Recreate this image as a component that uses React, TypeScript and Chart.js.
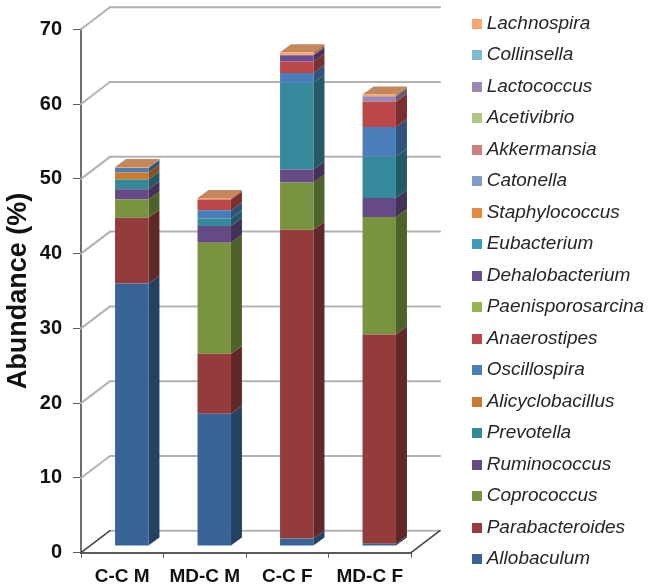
import React, { useEffect, useRef } from "react";
import { Chart, registerables } from "chart.js";

Chart.register(...registerables);

const categories = ["C-C M", "MD-C M", "C-C F", "MD-C F"];
const yTicksMax = 70;

const Allobaculum = [35.1, 17.7, 1.0, 0.3];
const Parabacteroides = [8.8, 8.0, 41.3, 28.0];
const Coprococcus = [2.45, 14.85, 6.3, 15.7];
const Ruminococcus = [1.35, 2.25, 1.75, 2.55];
const Prevotella = [1.3, 1.0, 11.6, 5.5];
const Alicyclobacillus = [0.95, 0, 0, 0];
const Oscillospira = [0.6, 1.1, 1.3, 4.0];
const Anaerostipes = [0, 1.45, 1.55, 3.35];
const Paenisporosarcina = [0, 0, 0, 0];
const Dehalobacterium = [0, 0, 0.85, 0];
const Eubacterium = [0, 0, 0, 0];
const Staphylococcus = [0, 0, 0, 0];
const Catonella = [0, 0, 0, 0];
const Akkermansia = [0, 0, 0, 0];
const Acetivibrio = [0, 0, 0, 0];
const Lactococcus = [0, 0, 0, 0.75];
const Collinsella = [0, 0, 0, 0];
const Lachnospira = [0.15, 0.2, 0.4, 0.25];

const seriesNames = [
  "Allobaculum", "Parabacteroides", "Coprococcus", "Ruminococcus", "Prevotella",
  "Alicyclobacillus", "Oscillospira", "Anaerostipes", "Paenisporosarcina",
  "Dehalobacterium", "Eubacterium", "Staphylococcus", "Catonella", "Akkermansia",
  "Acetivibrio", "Lactococcus", "Collinsella", "Lachnospira",
];
const seriesValues = [
  Allobaculum, Parabacteroides, Coprococcus, Ruminococcus, Prevotella,
  Alicyclobacillus, Oscillospira, Anaerostipes, Paenisporosarcina,
  Dehalobacterium, Eubacterium, Staphylococcus, Catonella, Akkermansia,
  Acetivibrio, Lactococcus, Collinsella, Lachnospira,
];
const seriesColors = [
  "#3A6496", "#943C3B", "#789440", "#664A85", "#35899A",
  "#CC7A2C", "#4A7EBB", "#BC4749", "#95B64E",
  "#6A4E94", "#3C9DB8", "#E58B3E", "#809CC7", "#CF7F7D",
  "#AEC888", "#9C88B5", "#7FBBD0", "#F5A872",
];

const FONT = "'Liberation Sans', Arial, sans-serif";
const WALL = "#B2B2B2";
const AXIS = "#5A5A5A";
const depth = { wallX: 29, wallY: 22, barX: 9.5, barY: 6.7, sideX: 11, sideY: 8 };

function shade(hex: string, k: number) {
  const n = parseInt(hex.slice(1), 16);
  const c = (v: number) => Math.round(v * k);
  return `rgb(${c((n >> 16) & 255)},${c((n >> 8) & 255)},${c(n & 255)})`;
}

function swatch(color: string) {
  const c = document.createElement("canvas");
  c.width = 10;
  c.height = 10;
  const g = c.getContext("2d")!;
  g.fillStyle = color;
  g.fillRect(0, 0, 10, 10);
  return c;
}

function poly(ctx: CanvasRenderingContext2D, pts: number[][], fill: string) {
  ctx.beginPath();
  pts.forEach((p, i) => (i ? ctx.lineTo(p[0], p[1]) : ctx.moveTo(p[0], p[1])));
  ctx.closePath();
  ctx.fillStyle = fill;
  ctx.fill();
}

const box3d = {
  id: "box3d",
  afterLayout(chart: any) {
    const l = chart.legend;
    l.left = 463.7;
    l.right = 662;
    l.top = 1.5;
    l.bottom = 588;
  },
  beforeDatasetsDraw(chart: any) {
    const { ctx, chartArea: a, scales } = chart;
    const y = scales.y;
    ctx.save();
    ctx.lineCap = "round";
    y.ticks.forEach((t: any) => {
      const py = y.getPixelForValue(t.value);
      const zero = t.value === 0;
      ctx.lineWidth = 2;
      ctx.strokeStyle = WALL;
      ctx.beginPath();
      ctx.moveTo(a.left + depth.wallX, py - depth.wallY);
      ctx.lineTo(a.right + depth.wallX, py - depth.wallY);
      ctx.stroke();
      ctx.strokeStyle = zero ? "#444444" : WALL;
      ctx.lineWidth = zero ? 1.5 : 2;
      ctx.beginPath();
      ctx.moveTo(a.left, py);
      ctx.lineTo(a.left + depth.wallX, py - depth.wallY);
      if (zero) {
        ctx.moveTo(a.right, py);
        ctx.lineTo(a.right + depth.wallX, py - depth.wallY);
      }
      ctx.stroke();
    });
    ctx.restore();

    ctx.save();
    ctx.translate(depth.barX, -depth.barY);
    const tops: any[] = [];
    chart.data.datasets.forEach((ds: any, i: number) => {
      chart.getDatasetMeta(i).data.forEach((b: any, j: number) => {
        if (Math.abs(b.base - b.y) < 0.01) return;
        const r = b.x + b.width / 2;
        poly(ctx, [
          [r, b.y],
          [r + depth.sideX, b.y - depth.sideY],
          [r + depth.sideX, b.base - depth.sideY],
          [r, b.base],
        ], shade(ds.backgroundColor, 0.66));
        tops[j] = { b, color: ds.backgroundColor };
      });
    });
    tops.forEach(({ b, color }) => {
      const l = b.x - b.width / 2;
      const r = b.x + b.width / 2;
      poly(ctx, [
        [l, b.y],
        [l + depth.sideX, b.y - depth.sideY],
        [r + depth.sideX, b.y - depth.sideY],
        [r, b.y],
      ], shade(color, 0.8));
    });
  },
  afterDatasetsDraw(chart: any) {
    chart.ctx.restore();
  },
};

export default function App() {
  const ref = useRef<HTMLCanvasElement>(null);
  useEffect(() => {
    const chart = new Chart(ref.current!, {
      type: "bar",
      data: {
        labels: categories,
        datasets: seriesNames.map((label, i) => ({
          label,
          data: seriesValues[i],
          backgroundColor: seriesColors[i],
          borderWidth: 0,
          categoryPercentage: 1,
          barPercentage: 0.405,
          clip: false,
        })),
      } as any,
      plugins: [box3d],
      options: {
        animation: false,
        responsive: false,
        layout: { padding: { top: 29.3, left: 0, right: 0, bottom: 0 } },
        scales: {
          x: {
            stacked: true,
            grid: { display: true, drawOnChartArea: false, tickLength: 5, color: AXIS, offset: true },
            border: { color: AXIS, width: 2 },
            ticks: { color: "#111111", font: { family: FONT, size: 19, weight: "bold" }, padding: 8, maxRotation: 0 },
            afterFit(s: any) { s.height = 35.3; },
          },
          y: {
            stacked: true,
            min: 0,
            max: yTicksMax,
            grid: { display: true, drawOnChartArea: false, tickLength: 8, color: AXIS },
            border: { color: "#6E6E6E", width: 2 },
            ticks: { stepSize: 10, color: "#111111", font: { family: FONT, size: 20, weight: "bold" }, padding: 11 },
            title: {
              display: true,
              text: "Abundance (%)",
              color: "#111111",
              font: { family: FONT, size: 27, weight: "bold" },
              padding: { top: 2, bottom: 0 },
            },
            afterFit(s: any) { s.width = 81; },
          },
          spacer: {
            position: "right",
            display: true,
            grid: { display: false },
            border: { display: false },
            ticks: { display: false },
            afterFit(s: any) { s.width = 653 - 411 - (s.chart.legend?.width ?? 186); },
          },
        },
        plugins: {
          title: { display: false },
          tooltip: { enabled: false },
          legend: {
            position: "right",
            align: "start",
            reverse: true,
            labels: {
              usePointStyle: true,
              pointStyleWidth: 1,
              padding: 12.5,
              color: "#262626",
              font: { family: FONT, size: 19, style: "italic" },
              generateLabels(c: any) {
                return Chart.defaults.plugins.legend.labels.generateLabels(c).map((it: any) => ({
                  ...it,
                  pointStyle: swatch(seriesColors[it.datasetIndex]),
                }));
              },
            },
          },
        },
      } as any,
    });
    return () => chart.destroy();
  }, []);
  return (
    <div style={{ position: "absolute", left: 0, top: 0, width: 653, height: 588, background: "#fff" }}>
      <canvas ref={ref} width={653} height={588} style={{ display: "block", filter: "blur(0.45px)" }} />
    </div>
  );
}
